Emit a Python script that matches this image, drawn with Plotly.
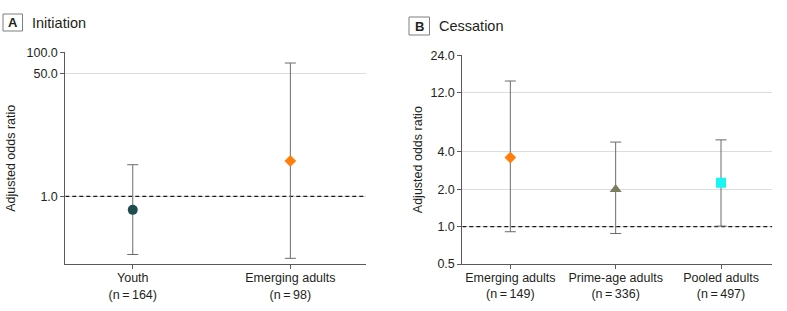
import math
import plotly.graph_objects as go

W, H = 787, 311

# ---- Data ----
init_groups = ["Youth", "Emerging adults"]
init_n = [164, 98]
init_or = [0.65, 3.1]
init_lo = [0.156, 0.138]
init_hi = [2.75, 71.0]

cess_groups = ["Emerging adults", "Prime-age adults", "Pooled adults"]
cess_n = [149, 336, 497]
cess_or = [3.6, 2.0, 2.26]
cess_lo = [0.91, 0.88, 1.01]
cess_hi = [14.9, 4.8, 5.0]

init_ticks = [1.0, 50.0, 100.0]
cess_ticks = [0.5, 1.0, 2.0, 4.0, 12.0, 24.0]
null_value = 1.0

init_colors = ["#1f4c4e", "#ff7f0a"]
init_symbols = ["circle", "diamond"]
init_sizes = [10, 9]
cess_colors = ["#ff7f0a", "#7b7c5f", "#19f5f5"]
cess_symbols = ["diamond", "triangle-up", "square"]
cess_sizes = [9, 10.5, 10]

FONT = "Liberation Sans, Arial, sans-serif"
TXT = "#231f20"
AX = "#5a5a5a"

XR_A = [-0.428, 1.478]
XR_B = [-0.456, 2.487]


def px(x):
    return x / W


def py(y):
    return 1 - y / H


def lab(g, n):
    return f"{g}<br>(n\u2009=\u2009{n})"


fig = go.Figure()

# reference (null) lines
for xr, xa, ya in ((XR_A, "x", "y"), (XR_B, "x2", "y2")):
    fig.add_trace(go.Scatter(x=xr, y=[null_value, null_value], mode="lines", xaxis=xa, yaxis=ya,
                             line=dict(color="#1a1a1a", width=1.3, dash="4px,3px"),
                             showlegend=False, hoverinfo="skip", cliponaxis=False))

for i, g in enumerate(init_groups):
    fig.add_trace(go.Scatter(
        x=[i], y=[init_or[i]], mode="markers", xaxis="x", yaxis="y",
        marker=dict(color=init_colors[i], symbol=init_symbols[i], size=init_sizes[i],
                    line=dict(width=0)),
        error_y=dict(type="data", symmetric=False,
                     array=[init_hi[i] - init_or[i]],
                     arrayminus=[init_or[i] - init_lo[i]],
                     color="#6b6b6b", thickness=1, width=5.5),
        showlegend=False, hoverinfo="skip"))

for i, g in enumerate(cess_groups):
    fig.add_trace(go.Scatter(
        x=[i], y=[cess_or[i]], mode="markers", xaxis="x2", yaxis="y2",
        marker=dict(color=cess_colors[i], symbol=cess_symbols[i],
                    size=cess_sizes[i], line=dict(width=0)),
        error_y=dict(type="data", symmetric=False,
                     array=[cess_hi[i] - cess_or[i]],
                     arrayminus=[cess_or[i] - cess_lo[i]],
                     color="#6b6b6b", thickness=1, width=5.5),
        showlegend=False, hoverinfo="skip"))

axis_common = dict(showline=True, linecolor=AX, linewidth=1, ticks="outside",
                   ticklen=4, tickcolor=AX, tickfont=dict(family=FONT, size=12.5, color=TXT),
                   zeroline=False, automargin=False)
tfont = dict(family=FONT, size=12.5, color=TXT)

fig.update_layout(
    width=W, height=H, margin=dict(l=0, r=0, t=0, b=0, pad=0, autoexpand=False),
    paper_bgcolor="white", plot_bgcolor="white",
    xaxis=dict(domain=[px(65.3), px(365.7)], range=XR_A,
               tickvals=list(range(len(init_groups))),
               ticktext=[lab(g, n) for g, n in zip(init_groups, init_n)],
               showgrid=False, anchor="y", ticklabelstandoff=-2, **axis_common),
    yaxis=dict(domain=[py(264.3), py(52.3)], type="log",
               range=[math.log10(0.114), 2.0],
               tickvals=init_ticks, ticktext=[f"{v:.1f}" for v in init_ticks],
               showgrid=True, gridcolor="#dcdcdc", gridwidth=1, anchor="x",
               title=dict(text="Adjusted odds ratio", standoff=8, font=tfont), **axis_common),
    xaxis2=dict(domain=[px(462.3), px(772.3)], range=XR_B,
                tickvals=list(range(len(cess_groups))),
                ticktext=[lab(g, n) for g, n in zip(cess_groups, cess_n)],
                showgrid=False, anchor="y2", ticklabelstandoff=-2, **axis_common),
    yaxis2=dict(domain=[py(264.0), py(55.3)], type="log",
                range=[math.log10(0.5), math.log10(24)],
                tickvals=cess_ticks, ticktext=[f"{v:.1f}" for v in cess_ticks],
                showgrid=True, gridcolor="#dcdcdc", gridwidth=1, anchor="x2",
                title=dict(text="Adjusted odds ratio", standoff=5, font=tfont), **axis_common),
)

# panel labels
panels = [("A", "Initiation", 3, 14, 22.5, 31), ("B", "Cessation", 409, 17, 429.5, 35)]
for letter, title, x0, y0, x1, y1 in panels:
    fig.add_shape(type="rect", xref="paper", yref="paper",
                  x0=px(x0), x1=px(x1), y0=py(y1), y1=py(y0),
                  line=dict(color="#7f7f7f", width=1), fillcolor="white")
    fig.add_annotation(xref="paper", yref="paper", x=px((x0 + x1) / 2), y=py((y0 + y1) / 2),
                       text=f"<b>{letter}</b>", showarrow=False, xanchor="center", yanchor="middle",
                       font=dict(family=FONT, size=13, color=TXT))
    fig.add_annotation(xref="paper", yref="paper", x=px(x1 + 7.5), y=py((y0 + y1) / 2),
                       text=title, showarrow=False, xanchor="left", yanchor="middle",
                       font=dict(family=FONT, size=14.5, color=TXT))

# remove the default page margin so the 787x311 figure fills the window exactly
fig.write_html("out.html", config={"displayModeBar": False},
               post_script="document.body.style.margin='0px';")
